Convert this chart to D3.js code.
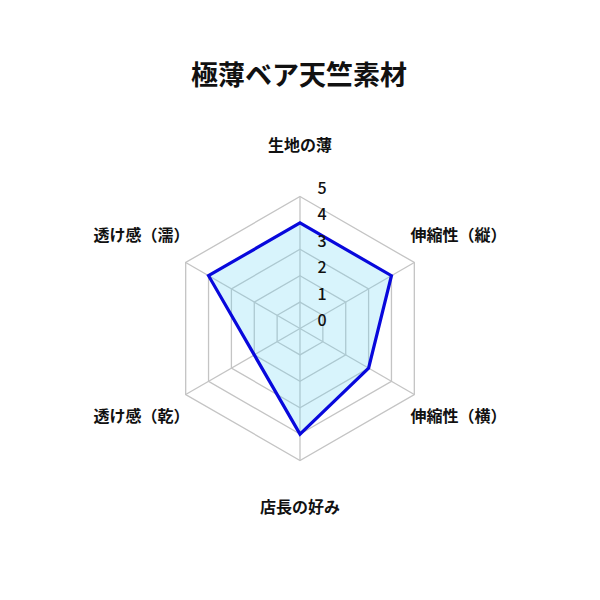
<!DOCTYPE html>
<html>
<head>
<meta charset="utf-8">
<script src="https://cdn.jsdelivr.net/npm/d3@7"></script>
<style>
  body { margin: 0; background: #fff; }
  text { font-family: "Noto Sans CJK JP", "Noto Sans", sans-serif; }
</style>
</head>
<body>
<div id="chart"></div>
<script>
/* DATA */
const title = "極薄ベア天竺素材";
const axes = ["生地の薄", "伸縮性（縦）", "伸縮性（横）", "店長の好み", "透け感（乾）", "透け感（濡）"];
const values = [4, 4, 3, 4, 2, 4];
const ticks = [0, 1, 2, 3, 4, 5];

/* CONSTANTS */
const width = 600;
const height = 600;
const cx = 300;
const cy = 328.5;
const R = 132;

const svg = d3.select("#chart")
  .append("svg")
  .attr("width", width)
  .attr("height", height);

/* SCALES */
const rScale = d3.scaleLinear()
  .domain([0, 5])
  .range([0, R]);

const angleScale = d3.scaleLinear()
  .domain([0, axes.length])
  .range([0, 2 * Math.PI]);

// x,y for axis i at value v
const pt = (i, v) => {
  const a = angleScale(i);
  return [cx + rScale(v) * Math.sin(a), cy - rScale(v) * Math.cos(a)];
};

/* GRID */
const grid = svg.append("g");
grid.selectAll("polygon")
  .data(ticks.filter(t => t > 0))
  .join("polygon")
  .attr("points", t => axes.map((_, i) => pt(i, t).join(",")).join(" "))
  .attr("fill", "none")
  .attr("stroke", "#c4c4c4")
  .attr("stroke-width", 1.3);

grid.selectAll("line")
  .data(axes)
  .join("line")
  .attr("x1", cx)
  .attr("y1", cy)
  .attr("x2", (d, i) => pt(i, 5)[0])
  .attr("y2", (d, i) => pt(i, 5)[1])
  .attr("stroke", "#c4c4c4")
  .attr("stroke-width", 1.3);

/* DATA SHAPE */
const line = d3.lineRadial()
  .angle((d, i) => angleScale(i))
  .radius(d => rScale(d))
  .curve(d3.curveLinearClosed);

svg.append("path")
  .datum(values)
  .attr("transform", `translate(${cx},${cy})`)
  .attr("d", line)
  .attr("fill", "rgba(110, 215, 245, 0.27)")
  .attr("stroke", "#0808dc")
  .attr("stroke-width", 3.2)
  .attr("stroke-linejoin", "miter");

/* TICK LABELS */
svg.selectAll(".tick")
  .data(ticks)
  .join("text")
  .attr("class", "tick")
  .attr("x", cx + 22)
  .attr("y", t => cy - rScale(t) - 9.5)
  .attr("text-anchor", "middle")
  .attr("dominant-baseline", "central")
  .attr("font-family", "Roboto, 'Liberation Sans', sans-serif")
  .attr("font-size", 16)
  .attr("font-weight", 500)
  .attr("fill", "#111")
  .text(d => d);

/* AXIS LABELS */
svg.selectAll(".axis-label")
  .data(axes)
  .join("text")
  .attr("class", "axis-label")
  .attr("x", (d, i) => cx + (R + 51) * Math.sin(angleScale(i)))
  .attr("y", (d, i) => cy - (R + 49) * Math.cos(angleScale(i)) - 4)
  .attr("text-anchor", "middle")
  .attr("dominant-baseline", "central")
  .attr("font-size", 16)
  .attr("font-weight", 600)
  .attr("fill", "#111")
  .text(d => d);

/* TITLE */
svg.append("text")
  .attr("x", 299)
  .attr("y", 73)
  .attr("text-anchor", "middle")
  .attr("dominant-baseline", "central")
  .attr("font-size", 27)
  .attr("font-weight", 700)
  .attr("fill", "#111")
  .text(title);
</script>
</body>
</html>
